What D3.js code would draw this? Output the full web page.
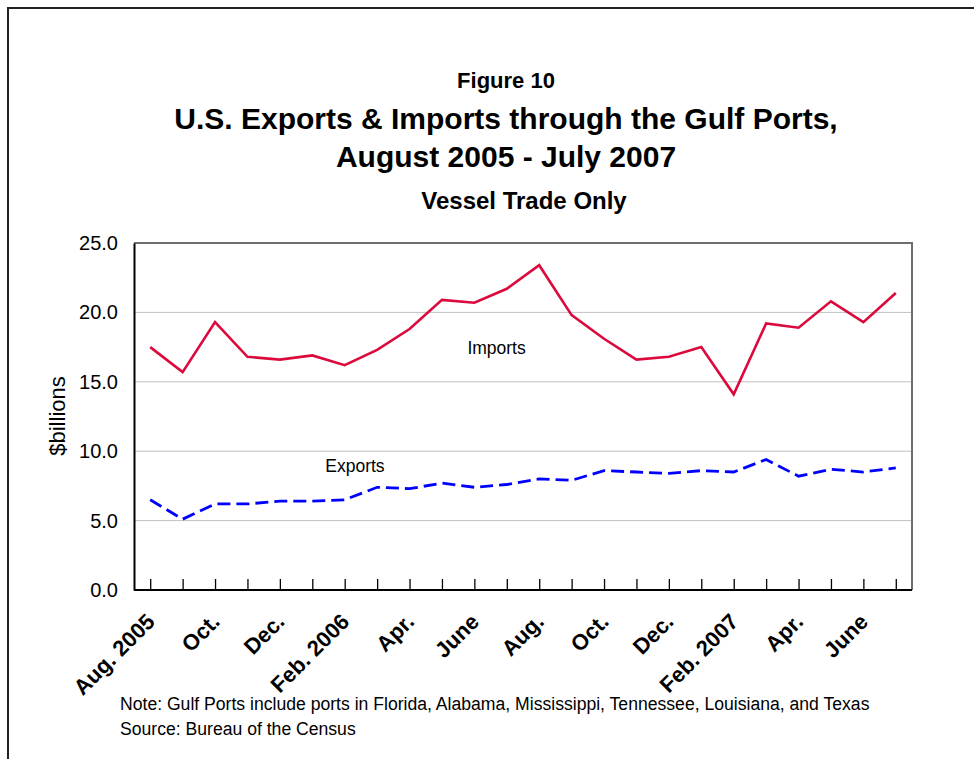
<!DOCTYPE html>
<html>
<head>
<meta charset="utf-8">
<script src="https://cdn.jsdelivr.net/npm/d3@7"></script>
<style>
  body { margin: 0; background: #fff; }
  svg { display: block; font-family: "Liberation Sans", Arial, sans-serif; }
</style>
</head>
<body>
<svg id="chart" width="974" height="759"></svg>
<script>
// Gulf ports vessel trade, monthly, Aug 2005 - Jul 2007 ($ billions)
const months = ["Aug. 2005", "Sep.", "Oct.", "Nov.", "Dec.", "Jan.", "Feb. 2006", "Mar.",
    "Apr.", "May", "June", "July", "Aug.", "Sep.", "Oct.", "Nov.", "Dec.", "Jan.",
    "Feb. 2007", "Mar.", "Apr.", "May", "June", "July"];
// only every second month gets a label on the axis
const shownLabels = ["Aug. 2005", "Oct.", "Dec.", "Feb. 2006", "Apr.", "June",
    "Aug.", "Oct.", "Dec.", "Feb. 2007", "Apr.", "June"];
const imports = [17.5, 15.7, 19.3, 16.8, 16.6, 16.9, 16.2, 17.3, 18.8, 20.9, 20.7, 21.7,
    23.4, 19.8, 18.1, 16.6, 16.8, 17.5, 14.1, 19.2, 18.9, 20.8, 19.3, 21.4];
const exports = [6.5, 5.1, 6.2, 6.2, 6.4, 6.4, 6.5, 7.4, 7.3, 7.7, 7.4, 7.6,
    8.0, 7.9, 8.6, 8.5, 8.4, 8.6, 8.5, 9.4, 8.2, 8.7, 8.5, 8.8];
const yTicks = [0, 5, 10, 15, 20, 25];

const svg = d3.select("#chart");
const plot = {left: 134, right: 912, top: 243, bottom: 590};

// outer frame (only top and left edges are inside the picture)
svg.append("path")
    .attr("d", "M8,759 V8 H974")
    .attr("fill", "none")
    .attr("stroke", "#222")
    .attr("stroke-width", 2);

// titles
const titles = [
    {text: "Figure 10", x: 506, y: 88, size: 22},
    {text: "U.S. Exports & Imports through the Gulf Ports,", x: 506, y: 129, size: 30},
    {text: "August 2005 - July 2007", x: 506, y: 167, size: 30},
    {text: "Vessel Trade Only", x: 524, y: 209, size: 24}
];
svg.selectAll("text.title")
    .data(titles)
    .enter()
    .append("text")
    .attr("class", "title")
    .attr("x", d => d.x)
    .attr("y", d => d.y)
    .attr("text-anchor", "middle")
    .attr("font-weight", "bold")
    .attr("font-size", d => d.size)
    .text(d => d.text);

// scales
const x = d3.scalePoint()
    .domain(d3.range(months.length))
    .range([plot.left, plot.right])
    .padding(0.5);

const y = d3.scaleLinear()
    .domain([0, 25])
    .range([plot.bottom, plot.top]);

// gridlines
svg.append("g")
    .selectAll("line")
    .data(yTicks.slice(1, -1))
    .enter()
    .append("line")
    .attr("x1", plot.left)
    .attr("x2", plot.right)
    .attr("y1", d => y(d))
    .attr("y2", d => y(d))
    .attr("stroke", "#c0c0c0")
    .attr("stroke-width", 1);

// top and right plot border (grey)
svg.append("path")
    .attr("d", `M${plot.left},${plot.top} H${plot.right} V${plot.bottom}`)
    .attr("fill", "none")
    .attr("stroke", "#6e6e6e")
    .attr("stroke-width", 2);

// y axis
const yAxis = svg.append("g")
    .attr("transform", `translate(${plot.left},0)`)
    .call(d3.axisLeft(y).tickValues(yTicks).tickFormat(d3.format(".1f")).tickSize(0).tickPadding(16));
yAxis.select(".domain").attr("stroke", "#000").attr("stroke-width", 2);
yAxis.selectAll("text")
    .attr("font-size", 20)
    .attr("font-family", "Liberation Sans, Arial, sans-serif")
    .attr("fill", "#000");

svg.append("text")
    .attr("transform", "translate(65,416) rotate(-90)")
    .attr("text-anchor", "middle")
    .attr("font-size", 22)
    .text("$billions");

// x axis, ticks pointing up into the plot
const xAxis = svg.append("g")
    .attr("transform", `translate(0,${plot.bottom})`)
    .call(d3.axisBottom(x).tickSizeInner(-11).tickSizeOuter(0).tickFormat(""));
xAxis.select(".domain")
    .attr("d", `M${plot.left},0H${plot.right}`)
    .attr("stroke", "#000")
    .attr("stroke-width", 2);
xAxis.selectAll(".tick line").attr("stroke", "#000").attr("stroke-width", 1.3);

svg.append("g")
    .selectAll("text")
    .data(shownLabels)
    .enter()
    .append("text")
    .attr("transform", (d, i) => `translate(${x(i * 2) + 6},${plot.bottom + 33}) rotate(-45)`)
    .attr("text-anchor", "end")
    .attr("font-size", 22)
    .attr("font-weight", "bold")
    .text(d => d);

// lines
const line = d3.line()
    .x((d, i) => x(i))
    .y(d => y(d));

svg.append("path")
    .datum(imports)
    .attr("d", line)
    .attr("fill", "none")
    .attr("stroke", "#dc0a3c")
    .attr("stroke-width", 2.6);

svg.append("path")
    .datum(exports)
    .attr("d", line)
    .attr("fill", "none")
    .attr("stroke", "#0000ff")
    .attr("stroke-width", 2.8)
    .attr("stroke-dasharray", "13,6");

// series labels
svg.append("text")
    .attr("x", (x(10) + x(11)) / 2 + 6)
    .attr("y", y(17.4) + 6)
    .attr("text-anchor", "middle")
    .attr("font-size", 17.5)
    .text("Imports");

svg.append("text")
    .attr("x", (x(6) + x(7)) / 2 - 6)
    .attr("y", y(8.9) + 6)
    .attr("text-anchor", "middle")
    .attr("font-size", 17.5)
    .text("Exports");

// footnotes
svg.append("text")
    .attr("x", 120)
    .attr("y", 710)
    .attr("font-size", 17.6)
    .text("Note: Gulf Ports include ports in Florida, Alabama, Mississippi, Tennessee, Louisiana, and Texas");
svg.append("text")
    .attr("x", 120)
    .attr("y", 735)
    .attr("font-size", 17.6)
    .text("Source: Bureau of the Census");
</script>
</body>
</html>
